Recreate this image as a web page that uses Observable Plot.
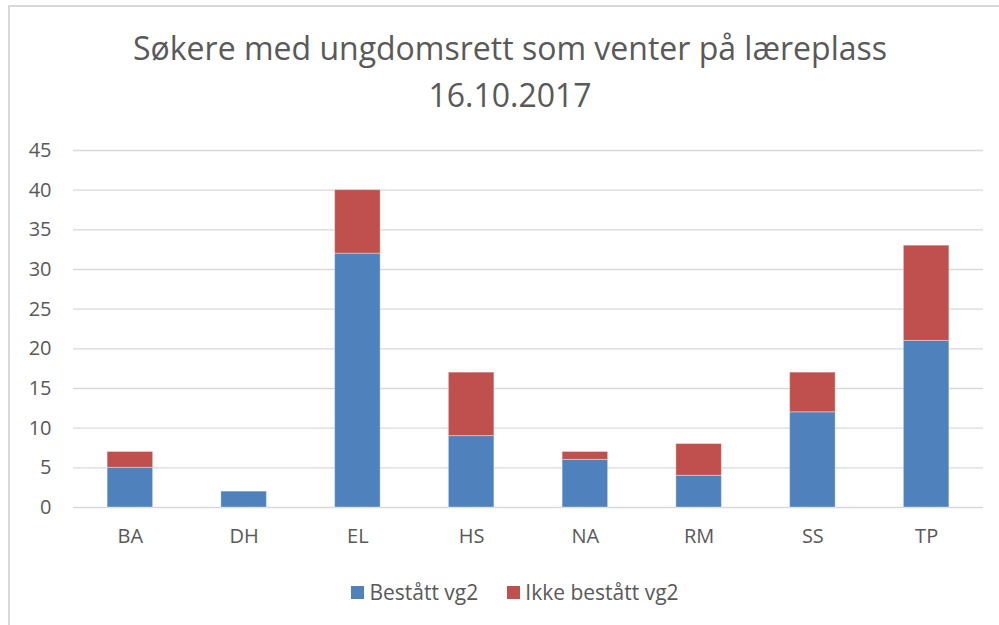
<!DOCTYPE html>
<html>
<head>
<meta charset="utf-8">
<script src="https://cdn.jsdelivr.net/npm/d3@7"></script>
<script src="https://cdn.jsdelivr.net/npm/@observablehq/plot@0.6"></script>
<style>
  html, body { margin: 0; padding: 0; background: #fff; }
  #wrap { position: relative; width: 999px; height: 625px; overflow: hidden; font-family: "Open Sans", sans-serif; color: #595959; }
  #frame { position: absolute; left: 8px; top: 5px; width: 1100px; height: 700px; border-left: 2px solid #d9d9d9; border-top: 2px solid #d9d9d9; box-sizing: border-box; }
  #title { position: absolute; left: 0; width: 1020px; top: 24px; text-align: center; font-size: 32px; line-height: 47px; color: #595959; }
  #chart { position: absolute; left: 0; top: 0; }
  #legend { position: absolute; left: 0; width: 1030px; top: 578px; display: flex; justify-content: center; gap: 29px; font-size: 21px; }
  .item { display: flex; align-items: center; gap: 5px; }
  .sw { width: 13px; height: 13px; display: inline-block; }
</style>
</head>
<body>
<div id="wrap">
  <div id="frame"></div>
  <div id="title">Søkere med ungdomsrett som venter på læreplass<br>16.10.2017</div>
  <div id="chart"></div>
  <div id="legend"></div>
</div>
<script>
const categories = ["BA", "DH", "EL", "HS", "NA", "RM", "SS", "TP"];
const bestatt = [5, 2, 32, 9, 6, 4, 12, 21];
const ikkeBestatt = [2, 0, 8, 8, 1, 4, 5, 12];
const seriesNames = ["Bestått vg2", "Ikke bestått vg2"];
const seriesColors = ["#4F81BD", "#C0504D"];
const yTicks = [0, 5, 10, 15, 20, 25, 30, 35, 40, 45];

const rows = [];
categories.forEach((c, i) => {
  rows.push({cat: c, series: seriesNames[0], value: bestatt[i]});
  rows.push({cat: c, series: seriesNames[1], value: ikkeBestatt[i]});
});

const plot = Plot.plot({
  width: 999,
  height: 625,
  marginTop: 150,
  marginBottom: 118,
  marginLeft: 73,
  marginRight: 16,
  style: {fontFamily: "Open Sans, sans-serif", fontSize: "20px", color: "#595959", background: "transparent"},
  x: {domain: categories, paddingInner: 0.6, paddingOuter: 0.3, round: false, label: null},
  y: {domain: [0, 45], label: null},
  color: {domain: seriesNames, range: seriesColors},
  marks: [
    Plot.ruleY(yTicks, {stroke: "#d9d9d9", strokeWidth: 1.4}),
    Plot.axisY({ticks: yTicks, tickSize: 0, tickPadding: 22, label: null, fill: "#595959", fontSize: 20}),
    Plot.axisX({tickSize: 0, tickPadding: 21, label: null, fill: "#595959", fontSize: 20}),
    Plot.barY(rows, {x: "cat", y: "value", fill: "series", stroke: "#ffffff", strokeOpacity: 0.35, strokeWidth: 1})
  ]
});
document.getElementById("chart").appendChild(plot);

const legend = document.getElementById("legend");
seriesNames.forEach((n, i) => {
  const item = document.createElement("div");
  item.className = "item";
  const sw = document.createElement("span");
  sw.className = "sw";
  sw.style.background = seriesColors[i];
  const t = document.createElement("span");
  t.textContent = n;
  item.appendChild(sw);
  item.appendChild(t);
  legend.appendChild(item);
});
</script>
</body>
</html>
